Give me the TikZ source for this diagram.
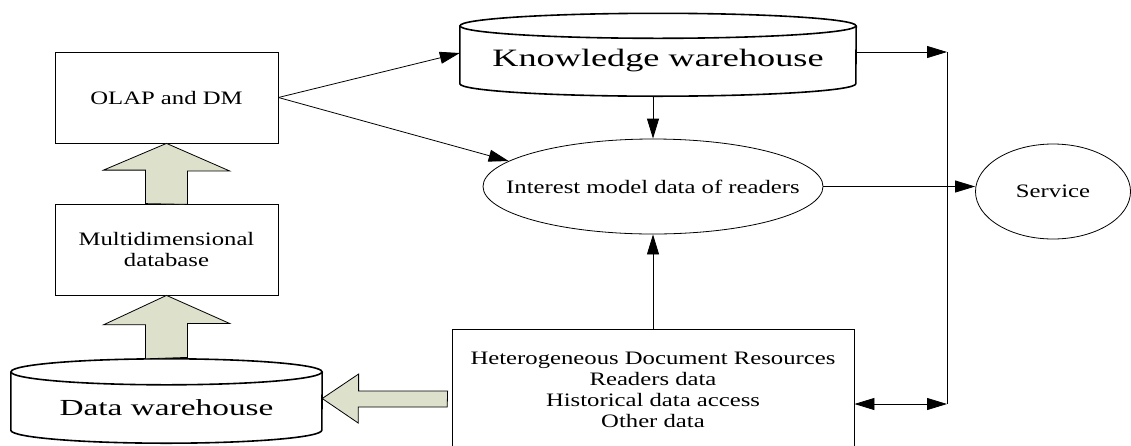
\documentclass[tikz,border=0pt]{standalone}
\usepackage{fontspec}
\setmainfont{Liberation Serif}[FakeStretch=1.3]
\newfontfamily\widefont{Liberation Serif}[FakeStretch=1.45]
\usepackage{tikz}
\usetikzlibrary{arrows.meta,shapes.geometric,positioning}

\definecolor{pale}{RGB}{221,224,203}

\begin{document}
\begin{tikzpicture}[x=1pt,y=-1pt,>={Triangle[length=20pt,width=12pt]},
  box/.style={draw,line width=0.8pt,minimum width=223pt,minimum height=91pt,
    align=center,font=\fontsize{19}{21}\selectfont},
  storebox/.style={inner sep=0pt},
  storeline/.style={line width=1.6pt},
  oval/.style={ellipse,draw,line width=0.8pt,minimum height=95pt,inner xsep=-30pt,
    font=\fontsize{19}{21}\selectfont},
  bigarrow/.style={draw,line width=0.8pt,fill=pale},
  line/.style={line width=0.8pt}]
  \useasboundingbox (0,0) rectangle (1131,445);

  \node[box]        (olap) at (166.5,97.5)  {OLAP and DM};
  \node[box]        (mdb)  at (166.5,249.5) {Multidimensional\\database};
  \node[storebox,minimum width=311pt,minimum height=71pt,
    font=\widefont\fontsize{23}{25}\selectfont] (dw) at (166.5,407.5) {Data warehouse};
  \node[storebox,minimum width=396pt,minimum height=70pt,
    font=\widefont\fontsize{25}{27}\selectfont] (kw) at (658,61) {Knowledge warehouse};
  \node[oval,minimum width=340pt] (imd) at (653,186.5) {Interest model data of readers};
  \node[oval,minimum width=155pt] (svc) at (1053,191.5) {Service};
  \node[box,minimum width=402pt,minimum height=121pt] (src) at (653,389.5)
    {Heterogeneous Document Resources\\Readers data\\Historical data access\\Other data};

  % the two stores
  \foreach \n/\hrad/\vrad in {kw/198/12.5,dw/155.5/13} {
    \draw[storeline] (\n.north) ellipse [x radius=\hrad pt,y radius=\vrad pt];
    \draw[storeline] (\n.north west) -- ([yshift=\vrad pt]\n.south west)
      arc [start angle=180,end angle=360,x radius=\hrad pt,y radius=\vrad pt]
      -- (\n.north east);
  }

  \coordinate (bt) at (947,52);
  \coordinate (bb) at (947,404);

  % thick block arrows
  \draw[bigarrow] (mdb.north) ++(-21,0) -- ++(0,-33.5) -- ++(-42,0) -- (olap.south)
    -- ++(63,27.5) -- ++(-42,0) -- ++(0,33.5) -- cycle;
  \draw[bigarrow] ([yshift=13pt]dw.north) ++(-21,0) -- ++(0,-34) -- ++(-42,0) -- (mdb.south)
    -- ++(63,28) -- ++(-42,0) -- ++(0,34) -- cycle;
  \draw[bigarrow] ([xshift=-4pt]src.west |- 0,391) -- ++(-89,0) -- ++(0,-17)
    -- (dw.east |- 0,398.5) -- ++(36,24.5) -- ++(0,-16) -- ++(89,0) -- cycle;

  % connectors
  \draw[line,->] (olap.east) -- ([yshift=8pt]kw.west);
  \draw[line,->] (olap.east) -- (imd.170);
  \draw[line,->] (kw.south -| imd.north) -- (imd.north);
  \draw[line,->] (src.north) -- (imd.south);
  \draw[line,->] (imd.east) -- (imd.east -| svc.west);
  \draw[line,->] (kw.east |- bt) -- (bt);
  \draw[line] (bt) -- (bb);
  \draw[line,<->] (src.east |- bb) -- (bb);
\end{tikzpicture}
\end{document}
